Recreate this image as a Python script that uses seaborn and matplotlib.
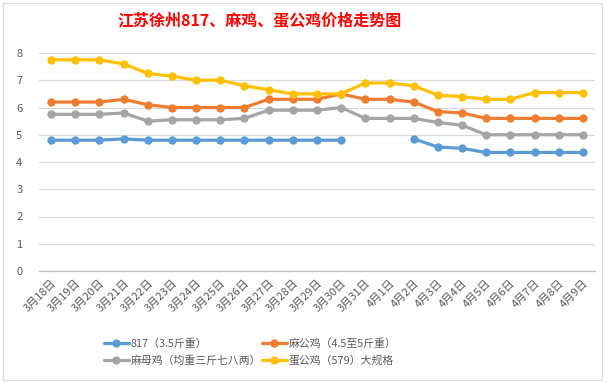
import numpy as np
import pandas as pd
import matplotlib
matplotlib.use("Agg")
import matplotlib.pyplot as plt
import seaborn as sns
from matplotlib.patches import Rectangle

dates = ["3月18日", "3月19日", "3月20日", "3月21日", "3月22日", "3月23日", "3月24日",
         "3月25日", "3月26日", "3月27日", "3月28日", "3月29日", "3月30日", "3月31日",
         "4月1日", "4月2日", "4月3日", "4月4日", "4月5日", "4月6日", "4月7日", "4月8日", "4月9日"]

s817 = [4.8, 4.8, 4.8, 4.85, 4.8, 4.8, 4.8, 4.8, 4.8, 4.8, 4.8, 4.8, 4.8, np.nan,
        np.nan, 4.85, 4.55, 4.5, 4.35, 4.35, 4.35, 4.35, 4.35]
ma_gong = [6.2, 6.2, 6.2, 6.3, 6.1, 6.0, 6.0, 6.0, 6.0, 6.3, 6.3, 6.3, 6.5, 6.3,
           6.3, 6.2, 5.85, 5.8, 5.6, 5.6, 5.6, 5.6, 5.6]
ma_mu = [5.75, 5.75, 5.75, 5.8, 5.5, 5.55, 5.55, 5.55, 5.6, 5.9, 5.9, 5.9, 6.0, 5.6,
         5.6, 5.6, 5.45, 5.35, 5.0, 5.0, 5.0, 5.0, 5.0]
dan_gong = [7.75, 7.75, 7.75, 7.6, 7.25, 7.15, 7.0, 7.0, 6.8, 6.65, 6.5, 6.5, 6.5, 6.9,
            6.9, 6.8, 6.45, 6.4, 6.3, 6.3, 6.55, 6.55, 6.55]

names = ["817（3.5斤重）", "麻公鸡（4.5至5斤重）", "麻母鸡（均重三斤七八两）", "蛋公鸡（579）大规格"]
colors = ["#5B9BD5", "#ED7D31", "#A5A5A5", "#FFC000"]
title = "江苏徐州817、麻鸡、蛋公鸡价格走势图"
yticks = [0, 1, 2, 3, 4, 5, 6, 7, 8]

sns.set_style("white")
plt.rcParams['font.family'] = ['Noto Sans CJK SC', 'DejaVu Sans']

fig = plt.figure(figsize=(6.12, 3.83), dpi=100)
fig.patch.set_facecolor("white")
fig.add_artist(Rectangle((3 / 612, 3 / 383), 599 / 612, 377 / 383, transform=fig.transFigure,
                         fill=False, edgecolor="#D9D9D9", linewidth=0.8))

ax = fig.add_axes([39 / 612, (383 - 271) / 383, (595 - 39) / 612, (271 - 53) / 383])

x = np.arange(len(dates))
series = [s817, ma_gong, ma_mu, dan_gong]
handles = []
for name, vals, col in zip(names, series, colors):
    vals = np.array(vals, dtype=float)
    df = pd.DataFrame({"x": x, "y": vals})
    valid = ~np.isnan(vals)
    seg_id = np.cumsum(~valid)
    for sid in np.unique(seg_id[valid]):
        sub = df[valid & (seg_id == sid)]
        sns.lineplot(data=sub, x="x", y="y", ax=ax, color=col, linewidth=2.3,
                     marker="o", markersize=6, markeredgewidth=0, legend=False)
    handles.append(plt.Line2D([], [], color=col, linewidth=2.3, marker="o",
                              markersize=6, markeredgewidth=0))

ax.set_xlim(-0.5, len(dates) - 0.5)
ax.set_ylim(0, 8)
ax.set_yticks(yticks)
ax.set_yticklabels([str(v) for v in yticks], fontsize=8, color="#595959")
ax.grid(axis="y", color="#D9D9D9", linewidth=0.9)
ax.set_axisbelow(True)
for s in ["left", "right", "top"]:
    ax.spines[s].set_visible(False)
ax.spines["bottom"].set_color("#BFBFBF")
ax.spines["bottom"].set_linewidth(0.9)
ax.tick_params(axis="y", length=0, pad=12)

ax.set_xticks(x)
ax.set_xticklabels(dates, rotation=45, ha="right", va="top", rotation_mode="anchor",
                   fontsize=8, color="#595959")
ax.tick_params(axis="x", length=0, pad=5)
ax.set_xticks(np.arange(-0.5, len(dates), 1.0), minor=True)
ax.tick_params(axis="x", which="minor", length=4, color="#BFBFBF", width=0.9, direction="out")
ax.set_xlabel("")
ax.set_ylabel("")

fig.text(260 / 612, (383 - 20) / 383, title, color="#FF0000", fontsize=11.5,
         fontweight="bold", ha="center", va="center")

# row-wise order: matplotlib fills columns first
order = [0, 2, 1, 3]
leg = fig.legend([handles[i] for i in order], [names[i] for i in order], loc="center",
                 bbox_to_anchor=(250 / 612, (383 - 352) / 383),
                 ncol=2, frameon=False, fontsize=7.8, handlelength=2.3, handletextpad=0.15,
                 columnspacing=0.1, labelspacing=0.65)
for t in leg.get_texts():
    t.set_color("#595959")

fig.savefig("out.png", dpi=100, facecolor="white")
